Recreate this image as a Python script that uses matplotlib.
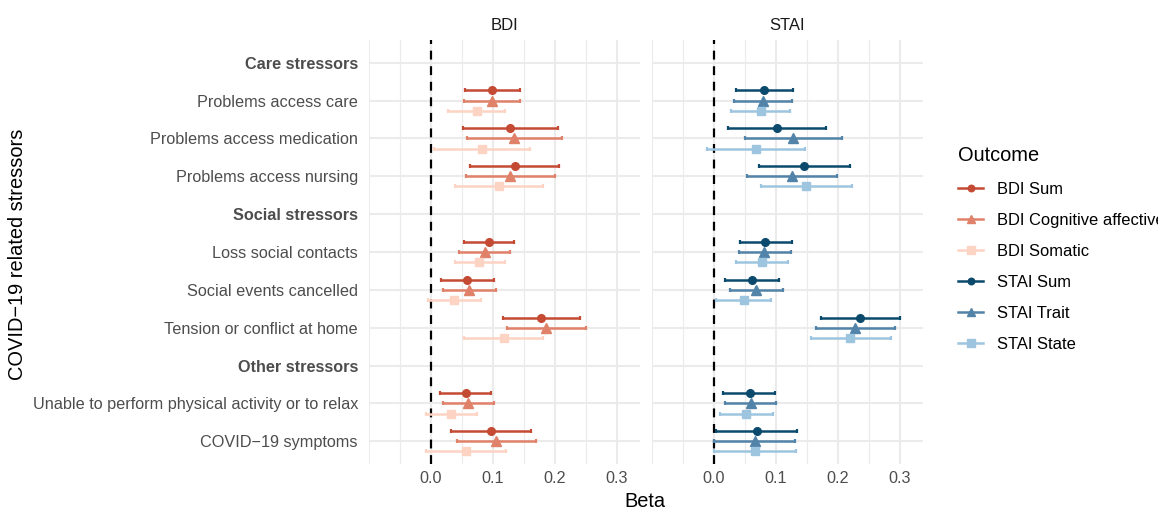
import numpy as np
import matplotlib
matplotlib.use("Agg")
import matplotlib.pyplot as plt
from matplotlib.lines import Line2D

plt.rcParams['font.family'] = ['Liberation Sans', 'DejaVu Sans']

# Stressor rows, top to bottom (headers are bold and hold no data)
rows = ["Care stressors", "Problems access care", "Problems access medication",
        "Problems access nursing", "Social stressors", "Loss social contacts",
        "Social events cancelled", "Tension or conflict at home", "Other stressors",
        "Unable to perform physical activity or to relax", "COVID\u221219 symptoms"]
headers = ["Care stressors", "Social stressors", "Other stressors"]
stressors = [r for r in rows if r not in headers]

# beta, lower CI, upper CI for each stressor (order as in `stressors`)
bdi_sum = [0.099, 0.127, 0.135, 0.093, 0.058, 0.178, 0.056, 0.097]
bdi_sum_lo = [0.055, 0.051, 0.063, 0.053, 0.016, 0.116, 0.015, 0.033]
bdi_sum_hi = [0.144, 0.204, 0.207, 0.134, 0.101, 0.241, 0.097, 0.161]

bdi_cog = [0.098, 0.134, 0.127, 0.087, 0.062, 0.186, 0.060, 0.105]
bdi_cog_lo = [0.053, 0.058, 0.056, 0.045, 0.019, 0.122, 0.019, 0.042]
bdi_cog_hi = [0.144, 0.211, 0.200, 0.127, 0.105, 0.250, 0.102, 0.170]

bdi_som = [0.074, 0.082, 0.109, 0.078, 0.037, 0.118, 0.033, 0.056]
bdi_som_lo = [0.028, 0.005, 0.038, 0.039, -0.005, 0.053, -0.008, -0.008]
bdi_som_hi = [0.119, 0.160, 0.181, 0.120, 0.080, 0.181, 0.074, 0.121]

stai_sum = [0.081, 0.101, 0.145, 0.083, 0.061, 0.235, 0.058, 0.069]
stai_sum_lo = [0.035, 0.023, 0.073, 0.042, 0.017, 0.173, 0.015, 0.004]
stai_sum_hi = [0.127, 0.180, 0.219, 0.126, 0.104, 0.300, 0.099, 0.134]

stai_trait = [0.079, 0.127, 0.126, 0.081, 0.068, 0.228, 0.059, 0.066]
stai_trait_lo = [0.033, 0.050, 0.053, 0.040, 0.025, 0.165, 0.017, 0.000]
stai_trait_hi = [0.126, 0.206, 0.199, 0.124, 0.112, 0.292, 0.100, 0.131]

stai_state = [0.075, 0.067, 0.149, 0.077, 0.048, 0.220, 0.051, 0.066]
stai_state_lo = [0.028, -0.011, 0.075, 0.035, 0.004, 0.156, 0.009, 0.000]
stai_state_hi = [0.122, 0.147, 0.223, 0.119, 0.092, 0.285, 0.095, 0.132]

bdi_series = [("BDI Sum", bdi_sum, bdi_sum_lo, bdi_sum_hi, "#c44a33", "o", 5.5),
              ("BDI Cognitive affective", bdi_cog, bdi_cog_lo, bdi_cog_hi, "#e08169", "^", 6.8),
              ("BDI Somatic", bdi_som, bdi_som_lo, bdi_som_hi, "#fdd3c3", "s", 6.0)]
stai_series = [("STAI Sum", stai_sum, stai_sum_lo, stai_sum_hi, "#0b4a6c", "o", 5.5),
               ("STAI Trait", stai_trait, stai_trait_lo, stai_trait_hi, "#5283a8", "^", 6.8),
               ("STAI State", stai_state, stai_state_lo, stai_state_hi, "#9dc5e0", "s", 6.0)]

fig = plt.figure(figsize=(11.58, 5.07), dpi=100)
bottom, height = 1 - 464 / 507, (464 - 40) / 507
ax1 = fig.add_axes([369 / 1158, bottom, 271 / 1158, height])
ax2 = fig.add_axes([652 / 1158, bottom, 271 / 1158, height])

ypos = {r: i for i, r in enumerate(rows)}
offsets = [-0.267, 0.0, 0.267]

for ax, series, title in [(ax1, bdi_series, "BDI"), (ax2, stai_series, "STAI")]:
    ax.set_xlim(-0.1, 0.337)
    ax.set_ylim(len(rows) - 0.4, -0.6)
    for x in [-0.05, 0.05, 0.15, 0.25]:
        ax.axvline(x, color="#ebebeb", lw=0.8, zorder=0)
    for x in [-0.1, 0.0, 0.1, 0.2, 0.3]:
        ax.axvline(x, color="#ebebeb", lw=1.5, zorder=0)
    for i in range(len(rows)):
        ax.axhline(i, color="#ebebeb", lw=1.5, zorder=0)
    ax.axvline(0, color="black", lw=1.6, ls=(0, (4, 3)), zorder=1)
    for k, (name, b, lo, hi, col, mk, ms) in enumerate(series):
        y = np.array([ypos[s] for s in stressors]) + offsets[k]
        b = np.array(b)
        err = [b - np.array(lo), np.array(hi) - b]
        ax.errorbar(b, y, xerr=err, fmt="none", ecolor=col, elinewidth=1.8,
                    capsize=1.6, capthick=1.6, zorder=2)
        ax.plot(b, y, ls="none", marker=mk, ms=ms, color=col, zorder=3)
    for s in ax.spines.values():
        s.set_visible(False)
    ax.set_xticks([0.0, 0.1, 0.2, 0.3])
    ax.set_xticklabels(["0.0", "0.1", "0.2", "0.3"])
    ax.tick_params(axis="x", length=0, labelsize=11.7, labelcolor="#4d4d4d", pad=5)
    ax.tick_params(axis="y", length=0)
    ax.set_title(title, fontsize=12, color="#1a1a1a", pad=7)

ax1.set_yticks(range(len(rows)))
ax1.set_yticklabels(rows)
ax1.tick_params(axis="y", labelsize=11.7, labelcolor="#4d4d4d", pad=8)
for lab in ax1.get_yticklabels():
    if lab.get_text() in headers:
        lab.set_fontweight("bold")
ax2.set_yticks(range(len(rows)))
ax2.set_yticklabels([])

fig.text(18 / 1158, 1 - 254 / 507, "COVID\u221219 related stressors", rotation=90,
         ha="center", va="center", fontsize=14.4)
fig.text(645 / 1158, 1 - 492 / 507, "Beta", ha="center", va="top", fontsize=14.4)

handles = []
labels = []
for name, b, lo, hi, col, mk, ms in bdi_series + stai_series:
    handles.append(Line2D([0], [0], color=col, lw=1.8, marker=mk, ms=ms * 0.85))
    labels.append(name)
leg = fig.legend(handles, labels, title="Outcome", loc="upper left",
                 bbox_to_anchor=(943 / 1158, 1 - 131 / 507), frameon=False,
                 fontsize=11.9, title_fontsize=14.4, handlelength=1.55,
                 labelspacing=0.97, handletextpad=0.8, alignment="left")
leg._legend_box.sep = 12

fig.savefig("out.png", dpi=100)
